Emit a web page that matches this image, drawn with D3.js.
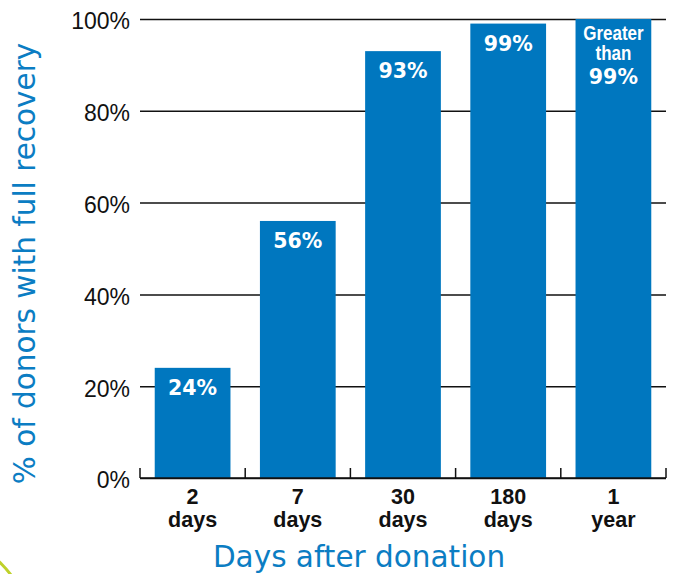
<!DOCTYPE html>
<html>
<head>
<meta charset="utf-8">
<script src="https://cdn.jsdelivr.net/npm/d3@7"></script>
<style>
  body { margin: 0; background: #fff; }
  svg { display: block; }
  .tickLab { font-family: "Liberation Sans", Arial, sans-serif; font-size: 23px; fill: #111; }
  .xLab { font-family: "Liberation Sans", Arial, sans-serif; font-size: 21.5px; font-weight: bold; fill: #111; }
  .barLab { font-family: "DejaVu Sans", sans-serif; font-size: 20.5px; font-weight: bold; fill: #fff; }
  .narrow { font-family: "Liberation Sans", Arial, sans-serif; font-size: 20px; font-weight: bold; fill: #fff; }
  .aTitle { font-family: "DejaVu Sans", sans-serif; font-size: 29.5px; fill: #0b7dc3; }
</style>
</head>
<body>
<div id="chart"></div>
<script>
var width = 678;
var height = 574;

// data
var periods = ["2 days", "7 days", "30 days", "180 days", "1 year"];
var periodTop = ["2", "7", "30", "180", "1"];
var periodBottom = ["days", "days", "days", "days", "year"];
var recovery = [24, 56, 93, 99, 100];
var barText = [["24%"], ["56%"], ["93%"], ["99%"], ["Greater", "than", "99%"]];
var yTicks = [0, 20, 40, 60, 80, 100];

var plotLeft = 140;
var plotRight = 666;
var plotTop = 19;
var plotBottom = 478;

var svg = d3
  .select("#chart")
  .append("svg")
  .attr("width", width)
  .attr("height", height);

// little green swoosh in the corner
svg.append("circle")
  .attr("cx", -69)
  .attr("cy", 635)
  .attr("r", 100)
  .attr("fill", "none")
  .attr("stroke", "#bfd12a")
  .attr("stroke-width", 3);

var Xscale = d3
  .scaleBand()
  .domain(periods)
  .range([plotLeft, plotRight])
  .paddingInner(0.28)
  .paddingOuter(0.14);

var Yscale = d3
  .scaleLinear()
  .domain([0, 100])
  .range([plotBottom, plotTop]);

// gridlines + y labels
var Yaxis = d3.axisLeft(Yscale)
  .tickValues(yTicks)
  .tickSize(-(plotRight - plotLeft))
  .tickPadding(10)
  .tickFormat(function(d) { return d + "%"; });

var yG = svg.append("g")
  .attr("transform", "translate(" + plotLeft + ",0)")
  .call(Yaxis);
yG.select(".domain").remove();
yG.attr("font-size", null).attr("font-family", null);
yG.selectAll("line").attr("stroke", "#111").attr("stroke-width", 1.5);
yG.selectAll("text")
  .attr("class", "tickLab")
  .attr("dy", "0.43em");

// bars
svg.selectAll("rect.bar")
  .data(recovery)
  .enter()
  .append("rect")
  .attr("class", "bar")
  .attr("x", function(d, i) { return Xscale(periods[i]); })
  .attr("y", function(d) { return Yscale(d); })
  .attr("width", Xscale.bandwidth())
  .attr("height", function(d) { return Yscale(0) - Yscale(d); })
  .attr("fill", "#0077bf");

// x axis line, ticks at band edges pointing up
var Xaxis = d3.axisBottom(Xscale).tickSize(0).tickFormat("");
var xG = svg.append("g")
  .attr("transform", "translate(0," + plotBottom + ")")
  .call(Xaxis);
xG.select(".domain")
  .attr("stroke", "#111")
  .attr("stroke-width", 1.5)
  .attr("d", "M" + plotLeft + ",0H" + plotRight);

var edges = periods.map(function(p) { return Xscale(p) - Xscale.step() * 0.14; });
edges.push(plotRight);
svg.selectAll("line.edge")
  .data(edges)
  .enter()
  .append("line")
  .attr("class", "edge")
  .attr("x1", function(d) { return d; })
  .attr("x2", function(d) { return d; })
  .attr("y1", plotBottom)
  .attr("y2", plotBottom - 10)
  .attr("stroke", "#111")
  .attr("stroke-width", 1.5);

// x labels
var xl = svg.selectAll("g.xl")
  .data(periods)
  .enter()
  .append("g")
  .attr("class", "xl")
  .attr("transform", function(d) {
    return "translate(" + (Xscale(d) + Xscale.bandwidth() / 2) + ",0)";
  });
xl.append("text")
  .attr("class", "xLab")
  .attr("text-anchor", "middle")
  .attr("y", 504)
  .text(function(d, i) { return periodTop[i]; });
xl.append("text")
  .attr("class", "xLab")
  .attr("text-anchor", "middle")
  .attr("y", 527)
  .text(function(d, i) { return periodBottom[i]; });

// labels inside the bars
barText.forEach(function(lines, i) {
  var cx = Xscale(periods[i]) + Xscale.bandwidth() / 2;
  var y0 = Yscale(recovery[i]);
  if (lines.length === 1) {
    svg.append("text")
      .attr("class", "barLab")
      .attr("text-anchor", "middle")
      .attr("x", cx)
      .attr("y", y0 + 27)
      .text(lines[0]);
  } else {
    // condensed look: squeeze the glyphs horizontally
    svg.append("text")
      .attr("class", "narrow")
      .attr("text-anchor", "middle")
      .attr("transform", "translate(" + cx + "," + (y0 + 21) + ")scale(0.85,1)")
      .text(lines[0]);
    svg.append("text")
      .attr("class", "narrow")
      .attr("text-anchor", "middle")
      .attr("transform", "translate(" + cx + "," + (y0 + 41) + ")scale(0.85,1)")
      .text(lines[1]);
    svg.append("text")
      .attr("class", "barLab")
      .attr("text-anchor", "middle")
      .attr("x", cx)
      .attr("y", y0 + 65)
      .text(lines[2]);
  }
});

// axis titles
svg.append("text")
  .attr("class", "aTitle")
  .attr("text-anchor", "middle")
  .attr("transform", "translate(35," + ((plotTop + plotBottom) / 2 + 15) + ")rotate(-90)")
  .text("% of donors with full recovery");

svg.append("text")
  .attr("class", "aTitle")
  .attr("text-anchor", "middle")
  .attr("x", 359)
  .attr("y", 567)
  .text("Days after donation");
</script>
</body>
</html>
